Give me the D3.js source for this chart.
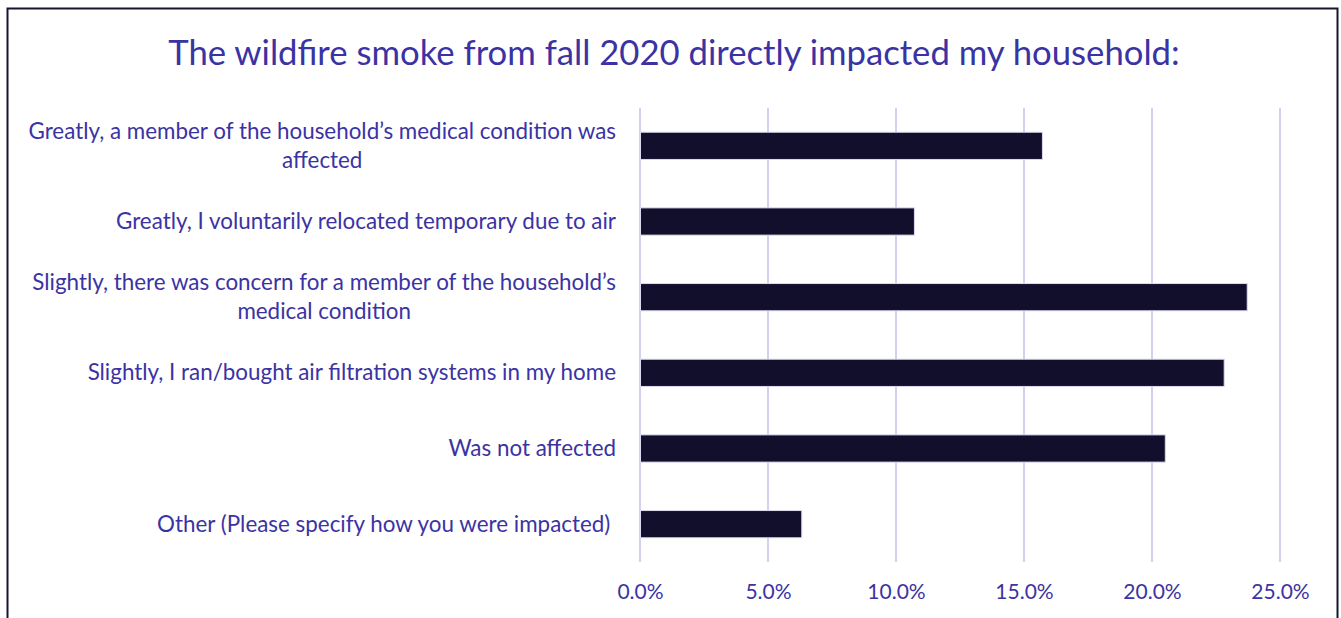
<!DOCTYPE html>
<html>
  <head>
    <meta charset="utf-8">
    <style>
    body { margin: 0; background: #fff; }
    text { font-family: Lato, "Open Sans", sans-serif; fill: #3b33a3; }
    .grid line { stroke: #d3d0f0; stroke-width: 2; }
    .bar { fill: #120f2c; stroke: #dcdaf0; stroke-width: 1; }
    </style>
  </head>
  <body>
    <script src="https://d3js.org/d3.v7.min.js"></script>
    <script>

    var titleText = "The wildfire smoke from fall 2020 directly impacted my household:";

    var categories = [
      ["Greatly, a member of the household\u2019s medical condition was", "affected"],
      ["Greatly, I voluntarily relocated temporary due to air"],
      ["Slightly, there was concern for a member of the household\u2019s", "medical condition"],
      ["Slightly, I ran/bought air filtration systems in my home"],
      ["Was not affected"],
      ["Other (Please specify how you were impacted) "]
    ];

    var values = [15.7, 10.7, 23.7, 22.8, 20.5, 6.3];

    var tickValues = [0, 5, 10, 15, 20, 25];

    var width = 1341, height = 618;
    var margin = {left: 640, right: 61, top: 108, bottom: 56};

    var svg = d3.select("body").append("svg")
        .attr("width", width)
        .attr("height", height);

    // frame round the chart
    svg.append("rect")
        .attr("x", 7.5).attr("y", 8.5)
        .attr("width", 1330).attr("height", 640)
        .attr("fill", "none")
        .attr("stroke", "#16142e")
        .attr("stroke-width", 2);

    svg.append("text")
        .attr("x", 674)
        .attr("y", 65)
        .attr("text-anchor", "middle")
        .style("font-size", "34.7px")
        .text(titleText);

    var x = d3.scaleLinear()
        .domain([0, 25])
        .range([margin.left, width - margin.right]);

    var y = d3.scaleBand()
        .domain(d3.range(categories.length))
        .range([margin.top, height - margin.bottom])
        .paddingInner(0.64)
        .paddingOuter(0.32);

    svg.append("g")
        .attr("class", "grid")
      .selectAll("line")
      .data(tickValues)
      .enter().append("line")
        .attr("x1", function(d) { return x(d); })
        .attr("x2", function(d) { return x(d); })
        .attr("y1", margin.top)
        .attr("y2", height - margin.bottom);

    svg.append("g")
      .selectAll("rect")
      .data(values)
      .enter().append("rect")
        .attr("class", "bar")
        .attr("x", x(0) + 0.5)
        .attr("y", function(d, i) { return y(i); })
        .attr("width", function(d) { return x(d) - x(0); })
        .attr("height", y.bandwidth());

    var xAxis = d3.axisBottom(x)
        .tickValues(tickValues)
        .tickSize(0)
        .tickPadding(0)
        .tickFormat(function(d) { return d.toFixed(1) + "%"; });

    var axisG = svg.append("g")
        .attr("transform", "translate(0," + 584 + ")")
        .call(xAxis);
    axisG.select(".domain").remove();
    axisG.selectAll("text")
        .style("font-size", "21px")
        .style("font-family", "Lato, sans-serif")
        .attr("fill", "#3b33a3");

    // category labels, wrapped lines centred inside a right-aligned block
    var lineH = 29;
    var labels = svg.append("g")
      .selectAll("text")
      .data(categories)
      .enter().append("text")
        .style("font-size", "22.4px")
        .style("white-space", "pre")
        .attr("text-anchor", "middle");

    labels.each(function(lines, i) {
      var t = d3.select(this);
      var cy = y(i) + y.bandwidth() / 2;
      var tspans = t.selectAll("tspan")
        .data(lines)
        .enter().append("tspan")
          .text(function(d) { return d; });
      var maxW = 0;
      tspans.each(function() { maxW = Math.max(maxW, this.getComputedTextLength()); });
      var right = 616;
      var cx = right - maxW / 2;
      tspans
        .attr("x", cx)
        .attr("y", function(d, j) {
          return cy + (j - (lines.length - 1) / 2) * lineH + 7.5;
        });
    });

    </script>
  </body>
</html>
